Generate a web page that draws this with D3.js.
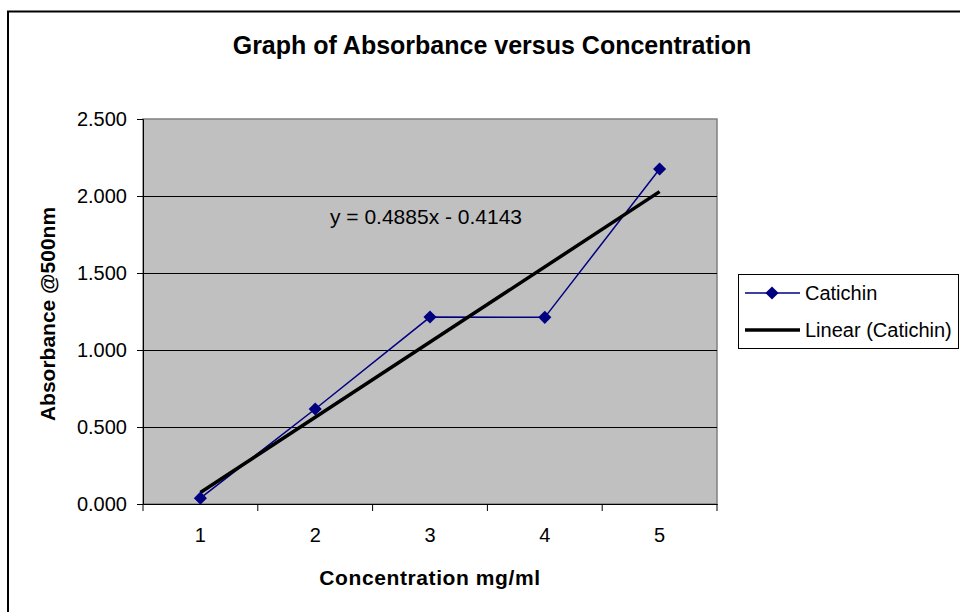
<!DOCTYPE html>
<html><head><meta charset="utf-8">
<script src="https://cdn.jsdelivr.net/npm/d3@7"></script>
<style>body{margin:0;background:#fff}svg{display:block;font-family:"Liberation Sans",Arial,sans-serif}</style>
</head><body><svg id="c" width="960" height="612"></svg>
<script>
const categories = ["1","2","3","4","5"];
const absorbance = [0.038, 0.617, 1.214, 1.212, 2.175];
const yTicks = [0, 0.5, 1.0, 1.5, 2.0, 2.5];
const trendSlope = 0.4885, trendIntercept = -0.4143;
const seriesName = "Catichin";
const trendName = "Linear (Catichin)";
const equationText = "y = 0.4885x - 0.4143";

const svg = d3.select("#c");
const L = 143, R = 717, T = 119, B = 504;
const FF = "Liberation Sans, Arial, sans-serif";

// outer frame
svg.append("rect").attr("x",8).attr("y",11.5).attr("width",1000).attr("height",700)
  .attr("fill","none").attr("stroke","#000").attr("stroke-width",2);

const x = d3.scaleBand().domain(categories).range([L,R]).padding(0);
const y = d3.scaleLinear().domain([0,2.5]).range([B,T]);

svg.append("rect").attr("x",L).attr("y",T).attr("width",R-L).attr("height",B-T)
  .attr("fill","#c0c0c0").attr("stroke","#808080").attr("stroke-width",1.5);

// gridlines
svg.append("g").selectAll("line").data(yTicks.slice(1,-1)).join("line")
  .attr("x1",L).attr("x2",R).attr("y1",d=>Math.round(y(d))+0.5).attr("y2",d=>Math.round(y(d))+0.5)
  .attr("stroke","#000").attr("stroke-width",1);

// y axis
const yAx = svg.append("g").attr("transform",`translate(${L},0)`)
  .call(d3.axisLeft(y).tickValues(yTicks).tickFormat(d3.format(".3f")).tickSize(6).tickPadding(10));
yAx.select(".domain").attr("stroke","#000");
yAx.selectAll("text").attr("font-size",20).attr("fill","#000").attr("font-family",FF);

// x axis
const xAx = svg.append("g").attr("transform",`translate(0,${B})`)
  .call(d3.axisBottom(x).tickSize(0).tickPadding(24));
xAx.select(".domain").attr("stroke","#000");
xAx.selectAll("text").attr("font-size",20).attr("fill","#000").attr("font-family",FF);
const bounds = categories.map(c=>x(c)).concat([R]);
svg.append("g").selectAll("line").data(bounds).join("line")
  .attr("x1",d=>d).attr("x2",d=>d).attr("y1",B).attr("y2",B+7).attr("stroke","#000");

const cx = c => x(c) + x.bandwidth()/2;

// series line
svg.append("path").datum(absorbance)
  .attr("d", d3.line().x((d,i)=>cx(categories[i])).y(d=>y(d)))
  .attr("fill","none").attr("stroke","#000080").attr("stroke-width",1.5);

// trendline
const n = categories.length;
svg.append("line")
  .attr("x1",cx(categories[0])).attr("y1",y(trendSlope*1+trendIntercept))
  .attr("x2",cx(categories[n-1])).attr("y2",y(trendSlope*n+trendIntercept))
  .attr("stroke","#000").attr("stroke-width",3.5);

// markers
const diamond = d3.symbol().type(d3.symbolDiamond2).size(110);
svg.append("g").selectAll("path").data(absorbance).join("path")
  .attr("transform",(d,i)=>`translate(${cx(categories[i])},${y(d)})`)
  .attr("d",diamond).attr("fill","#000080");

// equation
svg.append("text").attr("x",426).attr("y",224).attr("text-anchor","middle")
  .attr("font-size",21).attr("fill","#000").text(equationText);

// titles
svg.append("text").attr("x",492).attr("y",54).attr("text-anchor","middle")
  .attr("font-size",25).attr("font-weight","bold").text("Graph of Absorbance versus Concentration");
svg.append("text").attr("x",430).attr("y",585).attr("text-anchor","middle")
  .attr("font-size",21).attr("font-weight","bold").attr("letter-spacing",0.6).text("Concentration mg/ml");
svg.append("text").attr("transform","translate(55,314) rotate(-90)").attr("text-anchor","middle")
  .attr("font-size",21).attr("font-weight","bold").text("Absorbance @500nm");

// legend
const lg = svg.append("g");
lg.append("rect").attr("x",738.5).attr("y",274.5).attr("width",220).attr("height",74)
  .attr("fill","#fff").attr("stroke","#000").attr("stroke-width",1);
lg.append("line").attr("x1",745).attr("x2",800).attr("y1",293).attr("y2",293).attr("stroke","#000080").attr("stroke-width",1.5);
lg.append("path").attr("transform","translate(772,293)").attr("d",diamond).attr("fill","#000080");
lg.append("line").attr("x1",745).attr("x2",800).attr("y1",330).attr("y2",330).attr("stroke","#000").attr("stroke-width",3.5);
lg.append("text").attr("x",805).attr("y",300).attr("font-size",20).text(seriesName);
lg.append("text").attr("x",805).attr("y",337).attr("font-size",20).text(trendName);
</script></body></html>
